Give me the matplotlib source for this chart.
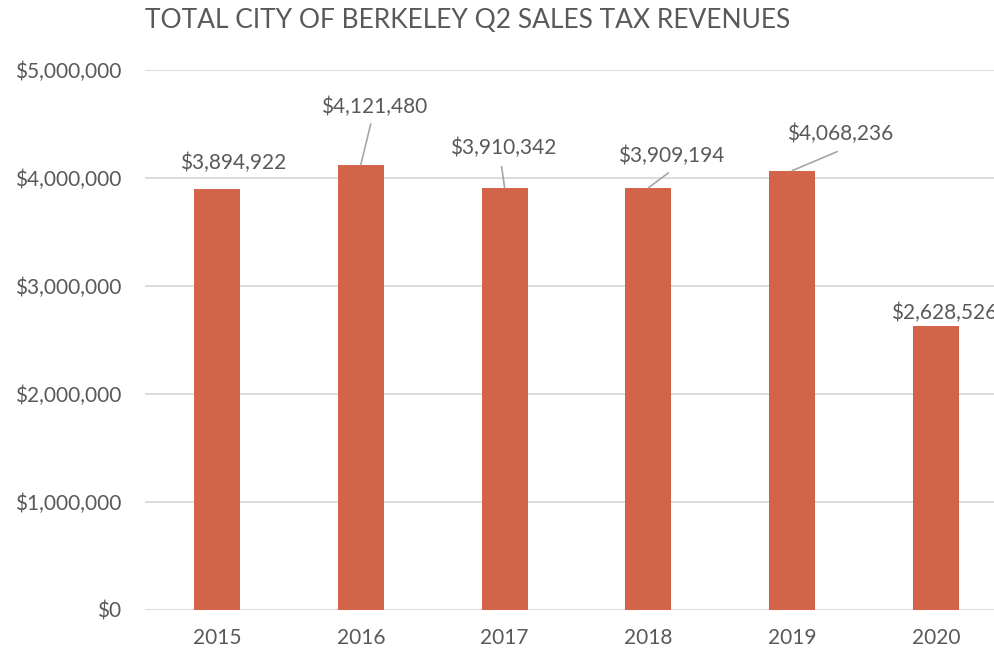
import matplotlib
matplotlib.use("Agg")
import matplotlib.pyplot as plt
from matplotlib.ticker import FuncFormatter

years = ["2015", "2016", "2017", "2018", "2019", "2020"]
revenues = [3894922, 4121480, 3910342, 3909194, 4068236, 2628526]
title = "TOTAL CITY OF BERKELEY Q2 SALES TAX REVENUES"

# label offsets (pixels) relative to bar top centre
label_off = [(16, 26), (13, 58), (-1, 40), (23, 32), (48, 37), (8, 13)]
# leader line end offsets (pixels), None = no leader
leader_off = [None, (10, 41), (-3, 21), (20, 15), (45, 19), None]

plt.rcParams['font.family'] = ['Lato', 'DejaVu Sans']
text_color = '#595959'
bar_color = '#D2644A'

fig = plt.figure(figsize=(9.94, 6.52), dpi=100)
ax = fig.add_axes([145/994, 1-610/652, 863/994, 540/652])

x = list(range(len(years)))
ax.bar(x, revenues, width=0.32, color=bar_color, zorder=3)
ax.set_xlim(-0.5, len(years)-0.5)
ax.set_ylim(0, 5000000)
ax.set_yticks([0, 1000000, 2000000, 3000000, 4000000, 5000000])
ax.yaxis.set_major_formatter(FuncFormatter(lambda v, p: "${:,.0f}".format(v)))
ax.set_xticks(x)
ax.set_xticklabels(years)
ax.grid(axis='y', color='#D9D9D9', lw=1.3, zorder=0)
for s in ax.spines.values():
    s.set_visible(False)
ax.tick_params(axis='both', length=0, colors=text_color, labelsize=15)
ax.tick_params(axis='y', pad=17)
ax.tick_params(axis='x', pad=13)

for i, v in enumerate(revenues):
    dx, dy = label_off[i]
    ax.annotate("${:,.0f}".format(v), xy=(i, v), xytext=(dx, dy),
                textcoords='offset pixels', ha='center', va='center',
                fontsize=15, color=text_color, annotation_clip=False, zorder=4)
    if leader_off[i] is not None:
        lx, ly = leader_off[i]
        ax.annotate('', xy=(i, v), xytext=(lx, ly), textcoords='offset pixels',
                    arrowprops=dict(arrowstyle='-', color='#A6A6A6', lw=1.2,
                                    shrinkA=0, shrinkB=0), zorder=4)

fig.text(145/994, 1-20/652, title, ha='left', va='center', fontsize=19,
         color=text_color)

fig.savefig("out.png", dpi=100)
